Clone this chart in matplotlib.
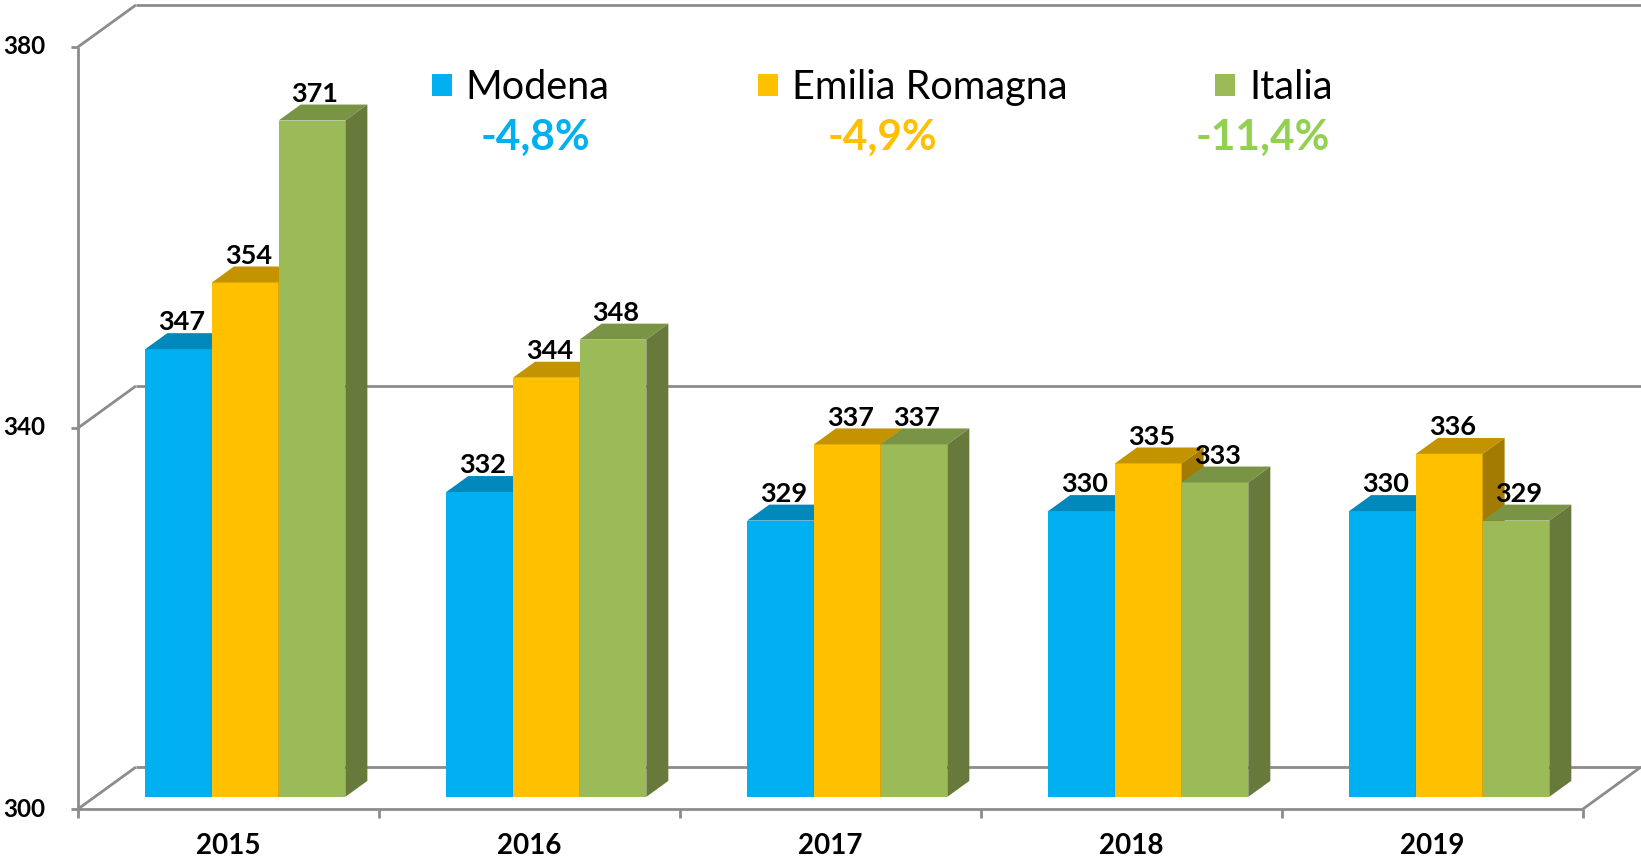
import numpy as np
import matplotlib.pyplot as plt
from matplotlib.patches import Polygon, Patch

plt.rcParams['font.family'] = ['Lato', 'DejaVu Sans']

# data
years = ['2015', '2016', '2017', '2018', '2019']
modena = [347, 332, 329, 330, 330]
emilia = [354, 344, 337, 335, 336]
italia = [371, 348, 337, 333, 329]
series_names = ['Modena', 'Emilia Romagna', 'Italia']
changes = ['-4,8%', '-4,9%', '-11,4%']
y_ticks = [300, 340, 380]

series = [modena, emilia, italia]
front_col = ['#00B0F0', '#FFC000', '#9BBB59']
top_col = ['#0089BA', '#C49400', '#7A9446']
side_col = ['#00739C', '#A37B00', '#677A3B']
pct_col = ['#00B0F0', '#FFC000', '#92D050']
frame_col = '#8C8C8C'

fig = plt.figure(figsize=(16.41, 8.66), dpi=100)
ax = fig.add_axes([0, 0, 1, 1])
ax.set_xlim(-0.759, 4.693)
ax.set_ylim(294.02, 384.93)
ax.axis('off')

base = 300
DX, DY = 0.1927, 4.41      # depth of the floor (data units)
f0, f1 = 0.29, 0.67        # front / back of the bars as depth fraction
w = 0.2216                 # bar width
ddx, ddy = (f1 - f0) * DX, (f1 - f0) * DY

# 3d frame
lk = dict(color=frame_col, lw=2, zorder=1, clip_on=False, solid_capstyle='butt')
x0, x1 = -0.5, len(years) - 0.5
ax.plot([x0, x0], [base, y_ticks[-1]], **lk)
for v in y_ticks:
    ax.plot([x0 - 0.023, x0], [v, v], **lk)
    ax.plot([x0, x0 + DX], [v, v + DY], **lk)
    ax.plot([x0 + DX, x1 + DX], [v + DY, v + DY], **lk)
    ax.text(x0 - 0.11, v, str(v), ha='right', va='center',
            fontsize=17.5, fontweight='bold')
ax.plot([x0, x1], [base, base], **lk)
ax.plot([x1, x1 + DX], [base, base + DY], **lk)
for k in range(len(years) + 1):
    ax.plot([k - 0.5, k - 0.5], [base, base - 0.9], **lk)
for j, yr in enumerate(years):
    ax.text(j, 296.1, yr, ha='center', va='center', fontsize=20, fontweight='bold')

# bars
for i, vals in enumerate(series):
    z = 3 + i * 0.1
    for j, v in enumerate(vals):
        xl = j - 1.5 * w + i * w + f0 * DX
        yb = base + f0 * DY
        yt = v + f0 * DY
        ax.bar(xl, v - base, width=w, bottom=yb, align='edge',
               color=front_col[i], zorder=z)
        ax.add_patch(Polygon([(xl, yt), (xl + w, yt), (xl + w + ddx, yt + ddy),
                              (xl + ddx, yt + ddy)], closed=True,
                             facecolor=top_col[i], edgecolor='none', zorder=z))
        ax.add_patch(Polygon([(xl + w, yb), (xl + w, yt), (xl + w + ddx, yt + ddy),
                              (xl + w + ddx, yb + ddy)], closed=True,
                             facecolor=side_col[i], edgecolor='none', zorder=z))
        ax.text(xl + w / 2 + 0.01, yt + ddy + 0.3, str(v), ha='center',
                va='baseline', fontsize=19.5, fontweight='bold', zorder=6)

# legend + variations
handles = [Patch(facecolor=c, edgecolor='none') for c in front_col]
ax.legend(handles, series_names, ncol=3, loc='upper left',
          bbox_to_anchor=(432 / 1641, 1 - 69 / 866), frameon=False,
          fontsize=28.5, handlelength=0.505, handleheight=0.505,
          handletextpad=0.35, columnspacing=3.74, borderpad=0, borderaxespad=0)
for txt, c, xp in zip(changes, pct_col, [535, 882, 1263]):
    fig.text(xp / 1641, 1 - 138 / 866, txt, ha='center', va='center',
             fontsize=30.5, fontweight='bold', color=c)

fig.savefig('out.png', dpi=100)
